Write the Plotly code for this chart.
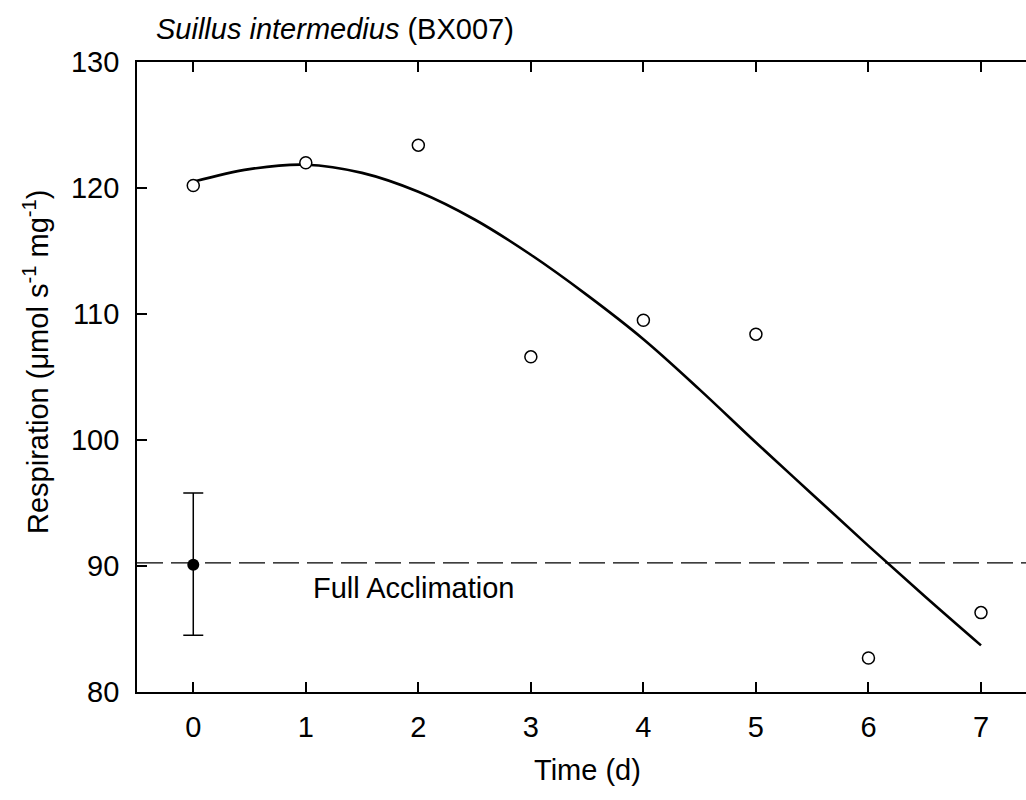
import plotly.graph_objects as go

# Observed respiration (open circles)
days = [0, 1, 2, 3, 4, 5, 6, 7]
respiration = [120.2, 122.0, 123.4, 106.6, 109.5, 108.4, 82.7, 86.3]

# Fitted curve
fit_x = [0, 0.5, 1, 1.5, 2, 2.5, 3, 3.5, 4, 4.5, 5, 5.5, 6, 6.5, 7]
fit_y = [120.5, 121.5, 121.85, 121.2, 119.7, 117.5, 114.7, 111.5, 108.0, 104.0, 99.8, 95.7, 91.6, 87.6, 83.7]

# Full acclimation reference (mean +/- error)
accl_x = [0]
accl_y = [90.1]
accl_err_plus = [5.7]
accl_err_minus = [5.6]
accl_level = 90.25

x_ticks = [0, 1, 2, 3, 4, 5, 6, 7]
y_ticks = [80, 90, 100, 110, 120, 130]

FONT = "Liberation Sans, Arial, sans-serif"
FS = 29

fig = go.Figure()

fig.add_trace(go.Scatter(
    x=fit_x, y=fit_y, mode="lines", line=dict(color="black", width=2.6, shape="spline"),
    hoverinfo="skip", showlegend=False))

fig.add_trace(go.Scatter(
    x=days, y=respiration, mode="markers",
    marker=dict(symbol="circle", size=12, color="white", line=dict(color="black", width=1.5)),
    showlegend=False))

fig.add_trace(go.Scatter(
    x=accl_x, y=accl_y, mode="markers",
    marker=dict(symbol="circle", size=12, color="black"),
    error_y=dict(type="data", symmetric=False, array=accl_err_plus, arrayminus=accl_err_minus,
                 color="black", thickness=1.5, width=10),
    showlegend=False))

# invisible trace for top axis
fig.add_trace(go.Scatter(x=days, y=respiration, xaxis="x2", mode="markers",
                         marker=dict(opacity=0), hoverinfo="skip", showlegend=False))

fig.add_shape(type="line", xref="paper", x0=0, x1=1, yref="y", y0=accl_level, y1=accl_level,
              line=dict(color="black", width=1.4, dash="26px,8px"), layer="below")

fig.add_annotation(x=1.05, y=88.25, xref="x", yref="y", text="Full Acclimation",
                   showarrow=False, xanchor="left", yanchor="middle",
                   font=dict(family=FONT, size=FS, color="black"))

fig.add_annotation(x=(154 - 137) / 889, y=1.0 + (62 - 29) / 630, xref="paper", yref="paper",
                   text="<i>Suillus intermedius</i> (BX007)", showarrow=False,
                   xanchor="left", yanchor="middle",
                   font=dict(family=FONT, size=FS, color="black"))

fig.add_annotation(x=3.5, y=-(770 - 692) / 630, xref="x", yref="paper", text="Time (d)",
                   showarrow=False, xanchor="center", yanchor="middle",
                   font=dict(family=FONT, size=FS, color="black"))

fig.add_annotation(x=(36 - 137) / 889, y=(692 - 362) / 630, xref="paper", yref="paper",
                   text="Respiration (\u03bcmol s<sup>-1</sup> mg<sup>-1</sup>)", textangle=-90,
                   showarrow=False, xanchor="center", yanchor="middle",
                   font=dict(family=FONT, size=FS, color="black"))

axis_common = dict(showline=True, linecolor="black", linewidth=1.8, ticks="inside",
                   ticklen=10, tickwidth=1.5, tickcolor="black", showgrid=False,
                   zeroline=False, tickfont=dict(family=FONT, size=FS, color="black"))

fig.update_layout(
    width=1026, height=800,
    margin=dict(l=137, r=0, t=62, b=108),
    plot_bgcolor="white", paper_bgcolor="white",
    xaxis=dict(range=[-0.5, 7.4], tickvals=x_ticks, ticklabelstandoff=8, **axis_common),
    xaxis2=dict(range=[-0.5, 7.4], overlaying="x", side="top", matches="x", tickvals=x_ticks,
                showticklabels=False, **axis_common),
    yaxis=dict(range=[80, 130], tickvals=y_ticks, ticklabelstandoff=10, **axis_common),
)

fig.write_html("out.html")
